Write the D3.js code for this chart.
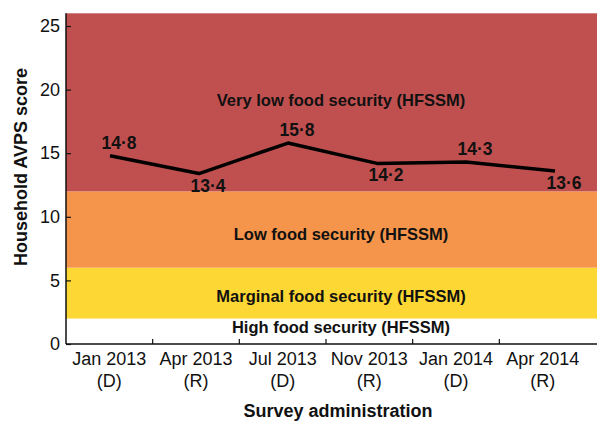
<!DOCTYPE html>
<html>
<head>
<meta charset="utf-8">
<script src="https://cdn.jsdelivr.net/npm/d3@7"></script>
<style>
  body { margin: 0; background: #fff; }
  svg { display: block; font-family: "Liberation Sans", Arial, Helvetica, sans-serif; }
  .tick text { font-size: 18px; fill: #111; }
  .band-label { font-size: 16.5px; font-weight: bold; fill: #111; text-anchor: middle; }
  .value-label { font-size: 17.5px; font-weight: bold; fill: #111; text-anchor: middle; }
  .axis-title { font-size: 18px; font-weight: bold; fill: #111; text-anchor: middle; }
</style>
</head>
<body>
<svg id="chart" width="597" height="422"></svg>
<script>
(function() {
  const surveys = ['Jan 2013', 'Apr 2013', 'Jul 2013', 'Nov 2013', 'Jan 2014', 'Apr 2014'];
  const modes = ['(D)', '(R)', '(D)', '(R)', '(D)', '(R)'];
  const scores = [14.8, 13.4, 15.8, 14.2, 14.3, 13.6];
  const labelSide = ['above', 'below', 'above', 'below', 'above', 'below'];

  const bandNames = ['High food security (HFSSM)', 'Marginal food security (HFSSM)',
                     'Low food security (HFSSM)', 'Very low food security (HFSSM)'];
  const bandFrom = [0, 2, 6, 12];
  const bandTo = [2, 6, 12, 26];
  const bandColors = ['#ffffff', '#fdd733', '#f5944b', '#c0504f'];
  const bandLabelAt = [0.86, 3.33, 8.18, 18.7];

  const yTicks = [0, 5, 10, 15, 20, 25];

  let svg = d3.select('#chart');
  let width = 597, height = 422;
  let margin = {'top': 13, 'bottom': 78, 'left': 66, 'right': 0};

  let scoreToY = d3.scaleLinear()
    .domain([0, 26])
    .range([height - margin.bottom, 13.3]);
  let surveyToBand = d3.scaleBand()
    .domain(surveys)
    .range([margin.left, 586]);
  let surveyToX = d3.scalePoint()
    .domain(surveys)
    .range([110, 555]);

  // background bands
  svg.append('g')
    .selectAll('rect')
    .data(bandNames)
    .enter()
    .append('rect')
    .attr('x', margin.left)
    .attr('width', width - margin.left)
    .attr('y', (d, i) => scoreToY(bandTo[i]))
    .attr('height', (d, i) => scoreToY(bandFrom[i]) - scoreToY(bandTo[i]))
    .attr('fill', (d, i) => bandColors[i]);

  svg.append('g')
    .selectAll('text')
    .data(bandNames)
    .enter()
    .append('text')
    .attr('class', 'band-label')
    .attr('x', 341)
    .attr('y', (d, i) => scoreToY(bandLabelAt[i]))
    .text(d => d);

  // y axis
  let yAxis = d3.axisLeft(scoreToY).tickValues(yTicks).tickSize(-5).tickPadding(6);
  let yG = svg.append('g')
    .attr('transform', 'translate(' + margin.left + ', 0)')
    .call(yAxis);
  yG.select('.domain').remove();
  yG.append('line')
    .attr('y1', scoreToY(0)).attr('y2', scoreToY(26))
    .attr('stroke', '#111').attr('stroke-width', 1.5);
  yG.selectAll('.tick line').attr('stroke', '#111').attr('stroke-width', 1.2);

  // x axis
  let xAxis = d3.axisBottom(surveyToBand).tickSize(0).tickPadding(8);
  let xG = svg.append('g')
    .attr('transform', 'translate(0, ' + scoreToY(0) + ')')
    .call(xAxis);
  xG.select('.domain').remove();
  xG.append('line')
    .attr('x1', margin.left).attr('x2', width)
    .attr('stroke', '#111').attr('stroke-width', 1.5);
  xG.selectAll('.tick text').each(function(d, i) {
    let t = d3.select(this).text('');
    t.append('tspan').attr('x', 0).attr('dy', '0.71em').text(d);
    t.append('tspan').attr('x', 0).attr('dy', '1.25em').text(modes[i]);
  });
  xG.append('g')
    .selectAll('line')
    .data(surveys.slice(1))
    .enter()
    .append('line')
    .attr('x1', d => surveyToBand(d))
    .attr('x2', d => surveyToBand(d))
    .attr('y1', 0).attr('y2', -5)
    .attr('stroke', '#111').attr('stroke-width', 1.2);

  // axis titles
  svg.append('text')
    .attr('class', 'axis-title')
    .attr('x', 338).attr('y', 417)
    .text('Survey administration');
  svg.append('text')
    .attr('class', 'axis-title')
    .attr('transform', 'translate(27, 167) rotate(-90)')
    .text('Household AVPS score');

  // line
  let line = d3.line()
    .x((d, i) => surveyToX(surveys[i]))
    .y(d => scoreToY(d));
  svg.append('path')
    .attr('d', line(scores))
    .attr('fill', 'none')
    .attr('stroke', '#000')
    .attr('stroke-width', 3.5)
    .attr('stroke-linejoin', 'round');

  let fmt = d3.format('.1f');
  svg.append('g')
    .selectAll('text')
    .data(scores)
    .enter()
    .append('text')
    .attr('class', 'value-label')
    .attr('x', (d, i) => surveyToX(surveys[i]) + 9)
    .attr('y', (d, i) => scoreToY(d) + (labelSide[i] === 'above' ? -7 : 18))
    .text(d => fmt(d).replace('.', '\u00b7'));
})();
</script>
</body>
</html>
